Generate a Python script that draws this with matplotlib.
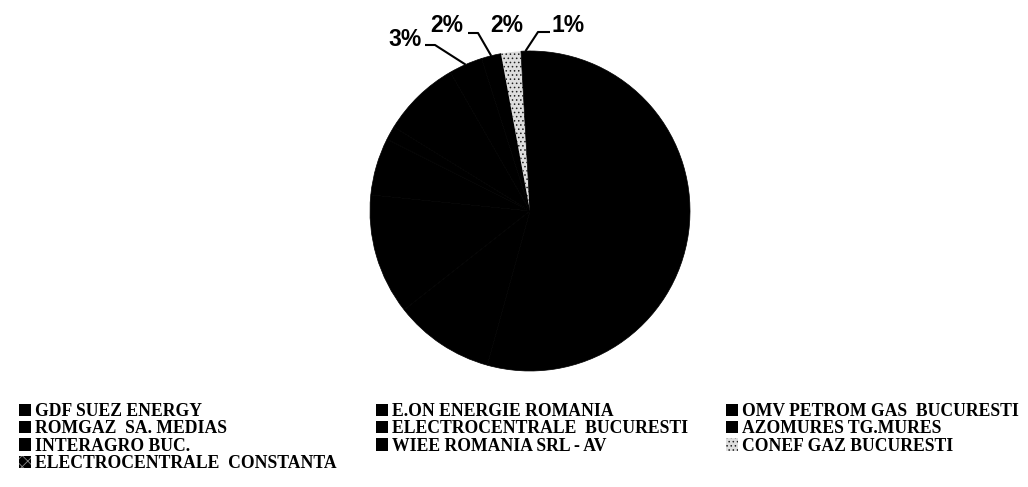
import matplotlib
matplotlib.use('Agg')
import matplotlib.pyplot as plt
from matplotlib.patches import Patch
import numpy as np

# ---- data -------------------------------------------------------------
companies = [
    "GDF SUEZ ENERGY",
    "E.ON ENERGIE ROMANIA",
    "OMV PETROM GAS  BUCURESTI",
    "ROMGAZ  SA. MEDIAS",
    "ELECTROCENTRALE  BUCURESTI",
    "AZOMURES TG.MURES",
    "INTERAGRO BUC.",
    "WIEE ROMANIA SRL - AV",
    "CONEF GAZ BUCURESTI",
    "ELECTROCENTRALE  CONSTANTA",
]
shares = [54.3, 10.1, 12.2, 5.8, 1.4, 7.9, 3.4, 2.0, 2.0, 0.9]
colors = ["black"] * 8 + ["#dedede", "black"]
hatches = [None] * 8 + ["....", None]
labelled = [6, 7, 8, 9]          # slices whose % labels are visible

# ---- layout -----------------------------------------------------------
W, H = 1028, 487
CX, CY, R = 530, 211, 160       # pie centre / radius in pixels

plt.rcParams['hatch.linewidth'] = 0.6
fig = plt.figure(figsize=(W / 100, H / 100), dpi=100)
ax = fig.add_axes([0, 0, 1, 1])


def px(x, y):
    return ((x - CX) / R, (CY - y) / R)


wedges, _ = ax.pie(shares, colors=colors, startangle=90, counterclock=False,
                   radius=1, wedgeprops=dict(edgecolor="black", linewidth=0.5))
for w, h in zip(wedges, hatches):
    if h:
        w.set_hatch(h)
        w.set_edgecolor("#222222")
        w.set_linewidth(0)

ax.set_xlim(-CX / R, (W - CX) / R)
ax.set_ylim(-(H - CY) / R, CY / R)
ax.axis('off')

total = sum(shares)
label_layout = {
    6: ((405, 40), [(425, 45), (435, 45)]),
    7: ((447, 26), [(468, 33), (478, 33)]),
    8: ((507, 26), None),
    9: ((568, 26), [(550, 32), (538, 32)]),
}
for i in labelled:
    w = wedges[i]
    mid = np.deg2rad((w.theta1 + w.theta2) / 2)
    edge = (np.cos(mid), np.sin(mid))
    (tx, ty), elbow = label_layout[i]
    ax.text(*px(tx, ty), f"{round(shares[i] / total * 100)}%", ha='center', va='center',
            fontsize=16.5, fontweight='bold', family='Liberation Sans', color='black')
    if elbow:
        pts = [px(*p) for p in elbow] + [edge]
        ax.plot([p[0] for p in pts], [p[1] for p in pts], color='black', lw=1.5,
                solid_capstyle='butt')

# ---- legend (row-major, 3 columns) -----------------------------------
handles = [Patch(facecolor=c, edgecolor=("#888888" if i == 9 else "#222222"),
                 hatch=("xxx" if i == 9 else h), linewidth=0)
           for i, (c, h) in enumerate(zip(colors, hatches))]
cols = [[0, 3, 6, 9], [1, 4, 7], [2, 5, 8]]
col_x = [19, 376, 726]
top_y = 403
for k, (idx, x0) in enumerate(zip(cols, col_x)):
    leg = ax.legend([handles[i] for i in idx], [companies[i] for i in idx],
                    loc='upper left', bbox_to_anchor=(x0 / W, 1 - top_y / H),
                    bbox_transform=fig.transFigure, frameon=False,
                    prop=dict(family='Liberation Serif', weight='bold', size=12.7),
                    handlelength=0.68, handleheight=0.68, handletextpad=0.25,
                    labelspacing=0.02, borderpad=0, borderaxespad=0)
    if k < 2:
        ax.add_artist(leg)

fig.savefig("out.png", dpi=100)
